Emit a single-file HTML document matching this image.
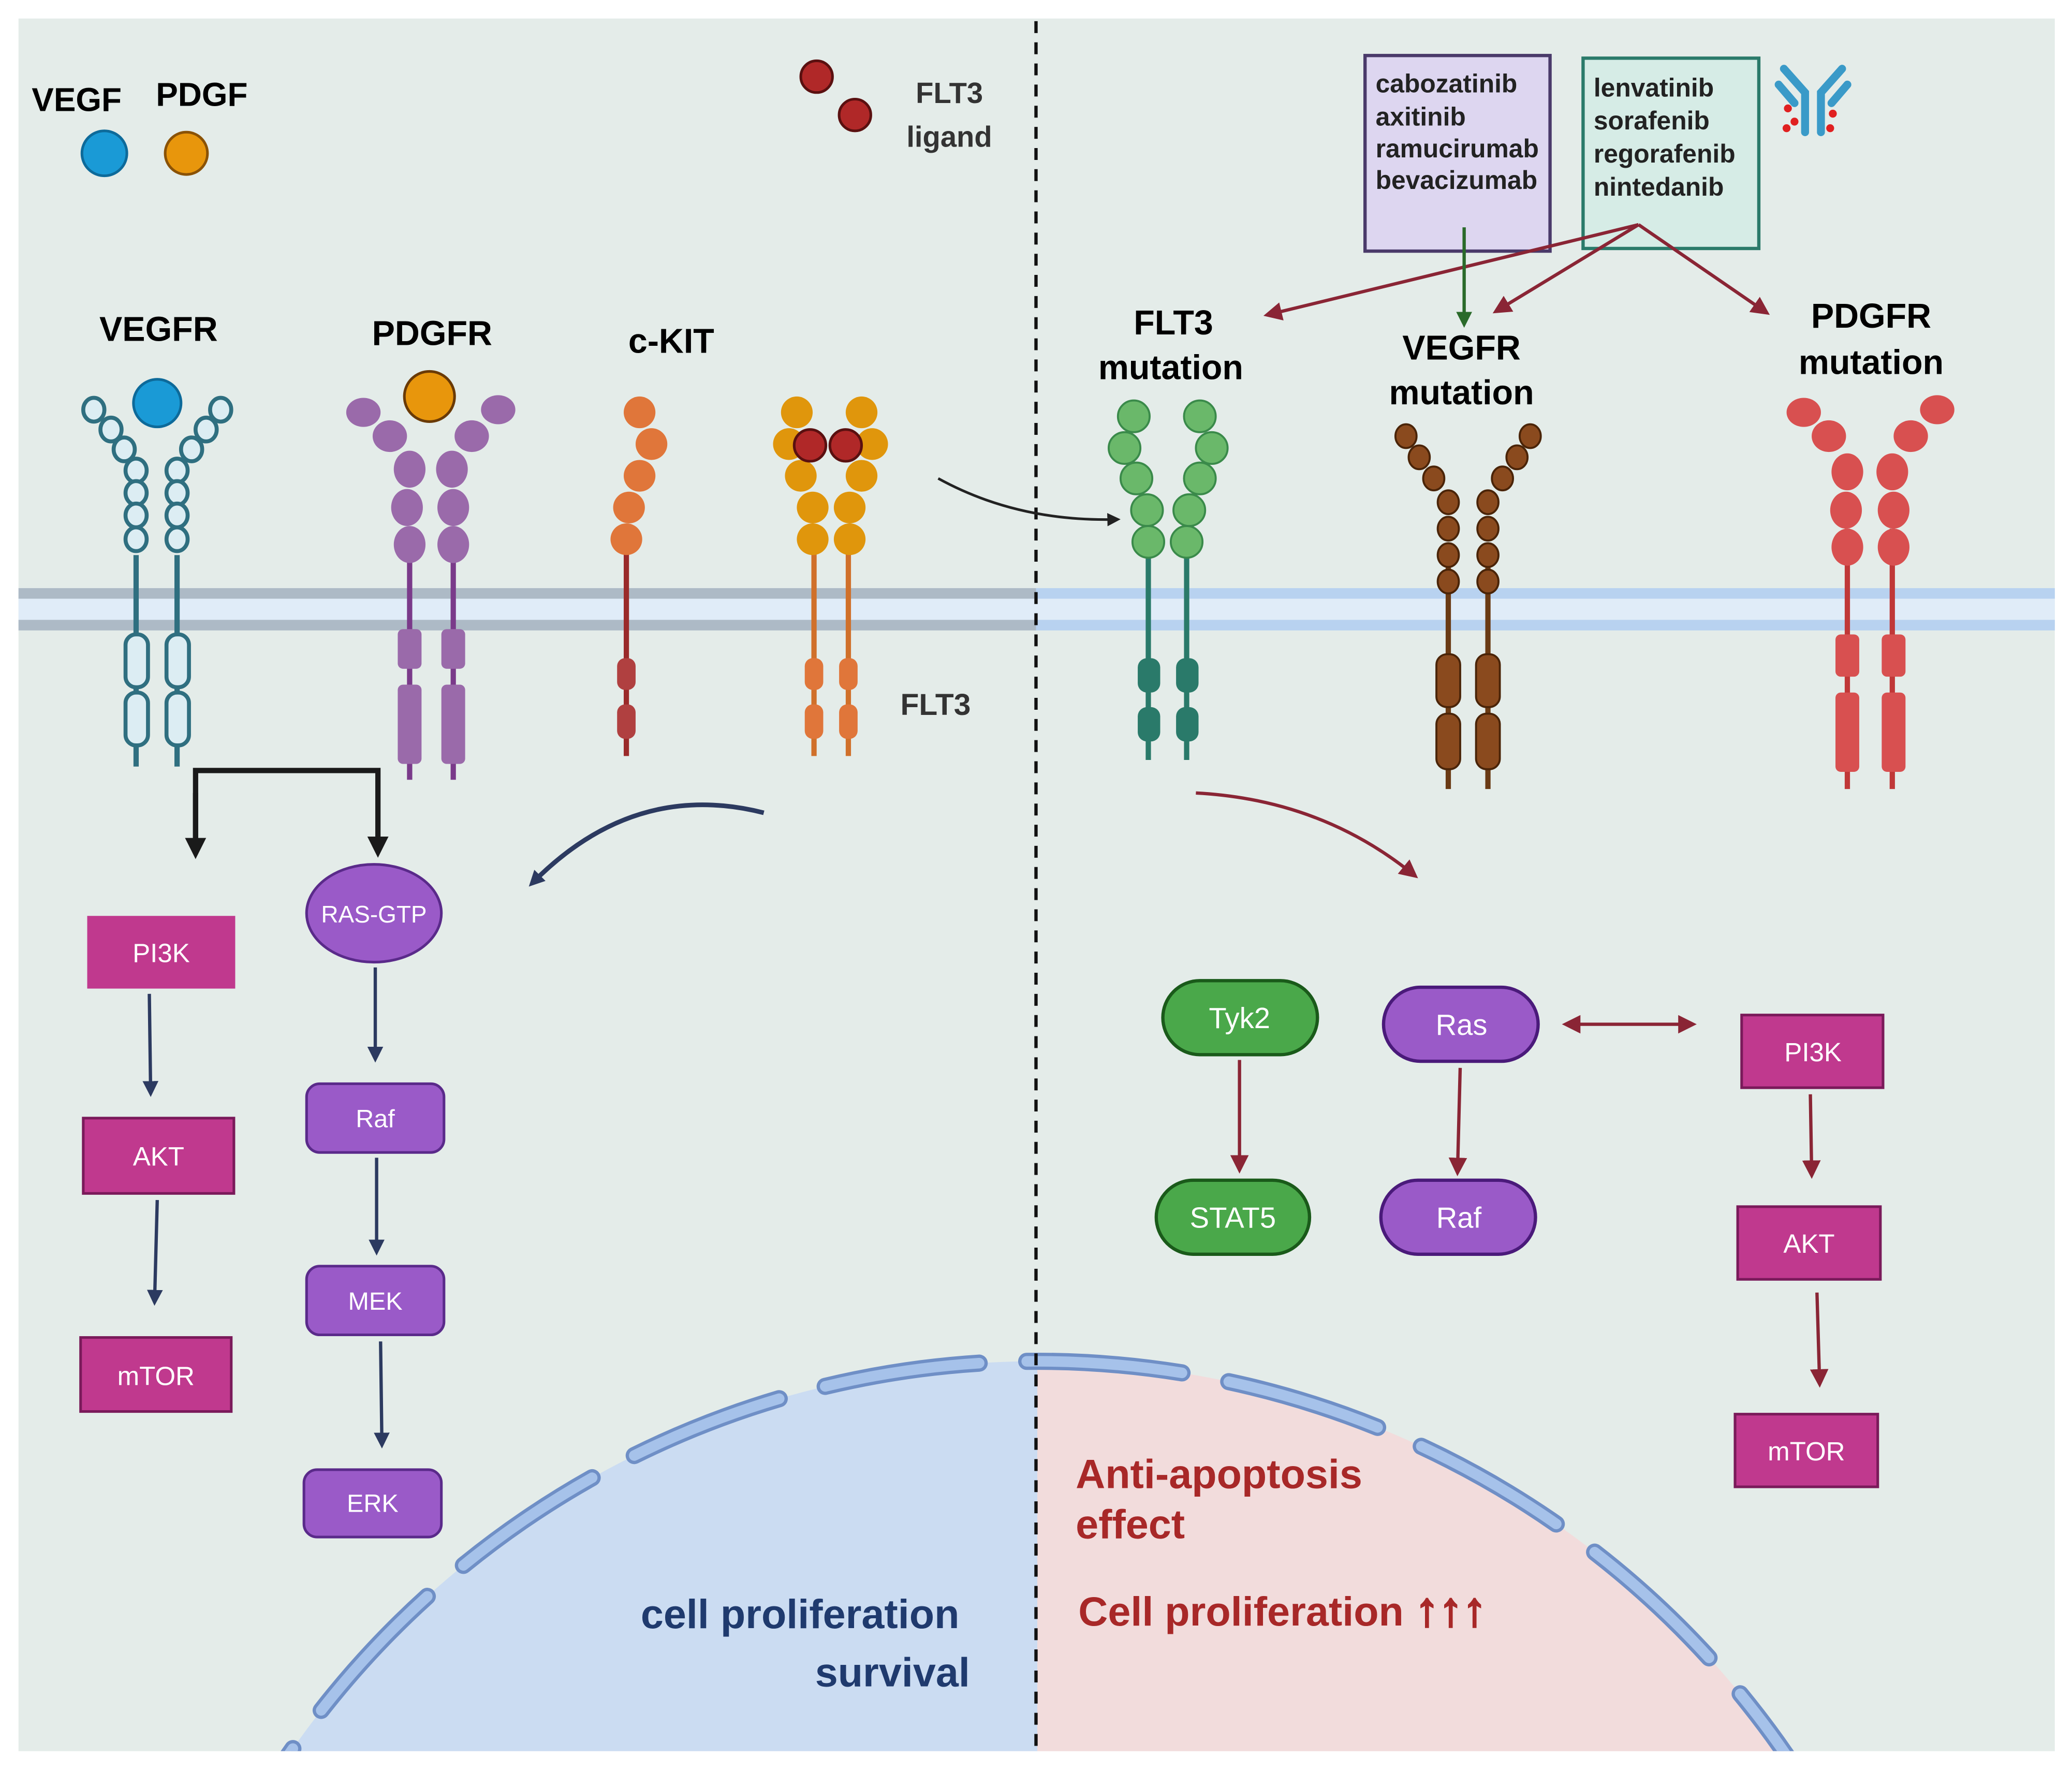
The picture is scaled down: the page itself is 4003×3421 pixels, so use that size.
<!DOCTYPE html>
<html><head><meta charset="utf-8"><style>
html,body{margin:0;padding:0;background:#fff;width:4003px;height:3421px;overflow:hidden}
svg{display:block}
text{font-family:"Liberation Sans",sans-serif;font-weight:bold}
</style></head><body>
<svg width="4003" height="3421" viewBox="0 0 1568 1340" xmlns="http://www.w3.org/2000/svg">
<defs>
<marker id="ak" markerWidth="10" markerHeight="10" refX="7" refY="5" orient="auto" markerUnits="userSpaceOnUse" viewBox="0 0 10 10"><path d="M0,0 L10,5 L0,10 z" fill="#222"/></marker>
<marker id="an" markerWidth="12" markerHeight="12" refX="8" refY="6" orient="auto" markerUnits="userSpaceOnUse" viewBox="0 0 12 12"><path d="M0,0 L12,6 L0,12 z" fill="#2c3a60"/></marker>
<marker id="am" markerWidth="14" markerHeight="14" refX="10" refY="7" orient="auto" markerUnits="userSpaceOnUse" viewBox="0 0 14 14"><path d="M0,0 L14,7 L0,14 z" fill="#8a2535"/></marker>
<marker id="amr" markerWidth="14" markerHeight="14" refX="4" refY="7" orient="auto" markerUnits="userSpaceOnUse" viewBox="0 0 14 14"><path d="M14,0 L0,7 L14,14 z" fill="#8a2535"/></marker>
<marker id="ag" markerWidth="12" markerHeight="12" refX="8" refY="6" orient="auto" markerUnits="userSpaceOnUse" viewBox="0 0 12 12"><path d="M0,0 L12,6 L0,12 z" fill="#2a6a2a"/></marker>
<marker id="ab" markerWidth="16" markerHeight="16" refX="12" refY="8" orient="auto" markerUnits="userSpaceOnUse" viewBox="0 0 16 16"><path d="M0,0 L16,8 L0,16 z" fill="#1a1a1a"/></marker>
<clipPath id="cp"><rect x="14" y="14" width="1541" height="1311"/></clipPath>
</defs>
<rect width="1568" height="1340" fill="#fff"/>
<rect x="14" y="14" width="1541" height="1311" fill="#e4ece9"/>
<rect x="14" y="448" width="770" height="26" fill="#e0ecf8"/>
<rect x="14" y="445" width="770" height="8" fill="#adbac6"/>
<rect x="14" y="469" width="770" height="8" fill="#adbac6"/>
<rect x="784" y="448" width="771" height="26" fill="#e0ecf8"/>
<rect x="784" y="445" width="771" height="8" fill="#b8d2f0"/>
<rect x="784" y="469" width="771" height="8" fill="#b8d2f0"/>
<g clip-path="url(#cp)">
<path d="M785,1030 A688,688 0 0 0 97,1718 L785,1718 Z" fill="#cbdcf2"/>
<path d="M785,1030 A688,688 0 0 1 1473,1718 L785,1718 Z" fill="#f2dcdc"/>
<circle cx="785" cy="1718" r="688" fill="none" stroke="#6f8fc6" stroke-width="13" stroke-dasharray="118 36" stroke-linecap="round"/>
<circle cx="785" cy="1718" r="688" fill="none" stroke="#a6c2ea" stroke-width="8" stroke-dasharray="118 36" stroke-linecap="round"/>
</g>
<line x1="784" y1="16" x2="784" y2="1325" stroke="#111" stroke-width="2.5" stroke-dasharray="9 7"/>
<text x="24" y="84" font-size="25">VEGF</text><text x="118" y="80" font-size="25">PDGF</text>
<circle cx="79" cy="116" r="17" fill="#1a9ad6" stroke="#0d6a9a" stroke-width="2"/>
<circle cx="141" cy="116" r="16" fill="#e8960c" stroke="#8a5206" stroke-width="2"/>
<circle cx="618" cy="58" r="12" fill="#b02828" stroke="#5a1010" stroke-width="2"/>
<circle cx="647" cy="87" r="12" fill="#b02828" stroke="#5a1010" stroke-width="2"/>
<text x="693" y="78" font-size="22" fill="#333">FLT3</text><text x="686" y="111" font-size="22" fill="#333">ligand</text>
<text x="120" y="258" font-size="26" text-anchor="middle">VEGFR</text>
<text x="327" y="261" font-size="26" text-anchor="middle">PDGFR</text>
<text x="508" y="267" font-size="26" text-anchor="middle">c-KIT</text>
<text x="708" y="541" font-size="23" text-anchor="middle" fill="#333">FLT3</text>
<text x="888" y="253" font-size="26" text-anchor="middle">FLT3</text><text x="886" y="287" font-size="26" text-anchor="middle">mutation</text>
<text x="1106" y="272" font-size="26" text-anchor="middle">VEGFR</text><text x="1106" y="306" font-size="26" text-anchor="middle">mutation</text>
<text x="1416" y="248" font-size="26" text-anchor="middle">PDGFR</text><text x="1416" y="283" font-size="26" text-anchor="middle">mutation</text>
<g stroke="#2f6f80" stroke-width="3" fill="#dcedf3">
<line x1="103" y1="420" x2="103" y2="580" stroke-width="4"/><line x1="134" y1="420" x2="134" y2="580" stroke-width="4"/>
<ellipse cx="71" cy="310" rx="8" ry="9"/><ellipse cx="84" cy="325" rx="8" ry="9"/><ellipse cx="94" cy="340" rx="8" ry="9"/>
<ellipse cx="103" cy="356" rx="8" ry="9"/><ellipse cx="103" cy="373" rx="8" ry="9"/><ellipse cx="103" cy="390" rx="8" ry="9"/><ellipse cx="103" cy="408" rx="8" ry="9"/>
<ellipse cx="167" cy="310" rx="8" ry="9"/><ellipse cx="156" cy="325" rx="8" ry="9"/><ellipse cx="145" cy="340" rx="8" ry="9"/>
<ellipse cx="134" cy="356" rx="8" ry="9"/><ellipse cx="134" cy="373" rx="8" ry="9"/><ellipse cx="134" cy="390" rx="8" ry="9"/><ellipse cx="134" cy="408" rx="8" ry="9"/>
<rect x="95" y="480" width="17" height="40" rx="8"/><rect x="95" y="524" width="17" height="40" rx="8"/>
<rect x="126" y="480" width="17" height="40" rx="8"/><rect x="126" y="524" width="17" height="40" rx="8"/>
</g>
<circle cx="119" cy="305" r="18" fill="#1a9ad6" stroke="#0d6a9a" stroke-width="2"/>
<g fill="#9a6aaa">
<rect x="308" y="400" width="4" height="190" fill="#7a3a8a"/><rect x="341" y="400" width="4" height="190" fill="#7a3a8a"/>
<ellipse cx="275" cy="312" rx="13" ry="11"/><ellipse cx="295" cy="330" rx="13" ry="12"/><ellipse cx="310" cy="355" rx="12" ry="14"/><ellipse cx="308" cy="384" rx="12" ry="14"/><ellipse cx="310" cy="412" rx="12" ry="14"/>
<ellipse cx="377" cy="310" rx="13" ry="11"/><ellipse cx="357" cy="330" rx="13" ry="12"/><ellipse cx="342" cy="355" rx="12" ry="14"/><ellipse cx="343" cy="384" rx="12" ry="14"/><ellipse cx="343" cy="412" rx="12" ry="14"/>
<rect x="301" y="476" width="18" height="30" rx="4"/><rect x="301" y="518" width="18" height="60" rx="4"/>
<rect x="334" y="476" width="18" height="30" rx="4"/><rect x="334" y="518" width="18" height="60" rx="4"/>
</g>
<circle cx="325" cy="300" r="19" fill="#e8960c" stroke="#6a3a06" stroke-width="2"/>
<line x1="474" y1="410" x2="474" y2="572" stroke="#9a2a2a" stroke-width="4"/>
<g fill="#e0763a"><circle cx="484" cy="312" r="12"/><circle cx="493" cy="336" r="12"/><circle cx="484" cy="360" r="12"/><circle cx="476" cy="384" r="12"/><circle cx="474" cy="408" r="12"/></g>
<g fill="#b04040"><rect x="467" y="498" width="14" height="24" rx="6"/><rect x="467" y="533" width="14" height="26" rx="6"/></g>
<line x1="616" y1="410" x2="616" y2="572" stroke="#d0702a" stroke-width="4"/><line x1="642" y1="410" x2="642" y2="572" stroke="#d0702a" stroke-width="4"/>
<g fill="#e0960c"><circle cx="603" cy="312" r="12"/><circle cx="652" cy="312" r="12"/><circle cx="597" cy="336" r="12"/><circle cx="660" cy="336" r="12"/><circle cx="606" cy="360" r="12"/><circle cx="652" cy="360" r="12"/><circle cx="615" cy="384" r="12"/><circle cx="643" cy="384" r="12"/><circle cx="615" cy="408" r="12"/><circle cx="643" cy="408" r="12"/></g>
<circle cx="613" cy="337" r="12" fill="#b02828" stroke="#5a1010" stroke-width="2"/><circle cx="640" cy="337" r="12" fill="#b02828" stroke="#5a1010" stroke-width="2"/>
<g fill="#e0763a"><rect x="609" y="498" width="14" height="24" rx="6"/><rect x="609" y="533" width="14" height="26" rx="6"/><rect x="635" y="498" width="14" height="24" rx="6"/><rect x="635" y="533" width="14" height="26" rx="6"/></g>
<line x1="869" y1="410" x2="869" y2="575" stroke="#2a7a6a" stroke-width="4"/><line x1="898" y1="410" x2="898" y2="575" stroke="#2a7a6a" stroke-width="4"/>
<g fill="#6ab86a" stroke="#3a8a4a" stroke-width="1.5"><circle cx="858" cy="315" r="12"/><circle cx="908" cy="315" r="12"/><circle cx="851" cy="339" r="12"/><circle cx="917" cy="339" r="12"/><circle cx="860" cy="362" r="12"/><circle cx="908" cy="362" r="12"/><circle cx="868" cy="386" r="12"/><circle cx="900" cy="386" r="12"/><circle cx="869" cy="410" r="12"/><circle cx="898" cy="410" r="12"/></g>
<g fill="#2a7a6a"><rect x="861" y="498" width="17" height="26" rx="7"/><rect x="861" y="535" width="17" height="26" rx="7"/><rect x="890" y="498" width="17" height="26" rx="7"/><rect x="890" y="535" width="17" height="26" rx="7"/></g>
<line x1="1096" y1="420" x2="1096" y2="597" stroke="#6a3a14" stroke-width="4"/><line x1="1126" y1="420" x2="1126" y2="597" stroke="#6a3a14" stroke-width="4"/>
<g fill="#8a4a1e" stroke="#4a2408" stroke-width="1.5">
<ellipse cx="1064" cy="330" rx="8" ry="9"/><ellipse cx="1074" cy="346" rx="8" ry="9"/><ellipse cx="1085" cy="362" rx="8" ry="9"/><ellipse cx="1096" cy="380" rx="8" ry="9"/><ellipse cx="1096" cy="400" rx="8" ry="9"/><ellipse cx="1096" cy="420" rx="8" ry="9"/><ellipse cx="1096" cy="440" rx="8" ry="9"/>
<ellipse cx="1158" cy="330" rx="8" ry="9"/><ellipse cx="1148" cy="346" rx="8" ry="9"/><ellipse cx="1137" cy="362" rx="8" ry="9"/><ellipse cx="1126" cy="380" rx="8" ry="9"/><ellipse cx="1126" cy="400" rx="8" ry="9"/><ellipse cx="1126" cy="420" rx="8" ry="9"/><ellipse cx="1126" cy="440" rx="8" ry="9"/>
<rect x="1087" y="495" width="18" height="40" rx="8"/><rect x="1087" y="540" width="18" height="42" rx="8"/><rect x="1117" y="495" width="18" height="40" rx="8"/><rect x="1117" y="540" width="18" height="42" rx="8"/></g>
<g fill="#d85050">
<rect x="1396" y="400" width="4" height="197" fill="#c03838"/><rect x="1430" y="400" width="4" height="197" fill="#c03838"/>
<ellipse cx="1365" cy="312" rx="13" ry="11"/><ellipse cx="1384" cy="330" rx="13" ry="12"/><ellipse cx="1398" cy="357" rx="12" ry="14"/><ellipse cx="1397" cy="386" rx="12" ry="14"/><ellipse cx="1398" cy="414" rx="12" ry="14"/>
<ellipse cx="1466" cy="310" rx="13" ry="11"/><ellipse cx="1446" cy="330" rx="13" ry="12"/><ellipse cx="1432" cy="357" rx="12" ry="14"/><ellipse cx="1433" cy="386" rx="12" ry="14"/><ellipse cx="1433" cy="414" rx="12" ry="14"/>
<rect x="1389" y="480" width="18" height="32" rx="4"/><rect x="1389" y="524" width="18" height="60" rx="4"/><rect x="1424" y="480" width="18" height="32" rx="4"/><rect x="1424" y="524" width="18" height="60" rx="4"/></g>
<rect x="1033" y="42" width="140" height="148" fill="#ddd6f0" stroke="#4a3a6a" stroke-width="2.5"/>
<g font-size="19.5" fill="#222"><text x="1041" y="70">cabozatinib</text><text x="1041" y="95">axitinib</text><text x="1041" y="119">ramucirumab</text><text x="1041" y="143">bevacizumab</text></g>
<rect x="1198" y="44" width="133" height="144" fill="#d6ece6" stroke="#2a7a6a" stroke-width="2.5"/>
<g font-size="19.5" fill="#222"><text x="1206" y="73">lenvatinib</text><text x="1206" y="98">sorafenib</text><text x="1206" y="123">regorafenib</text><text x="1206" y="148">nintedanib</text></g>
<g stroke="#3a9ac8" stroke-width="6" stroke-linecap="round" fill="none"><path d="M1366,100 L1366,70 L1350,52"/><path d="M1378,100 L1378,70 L1394,52"/><path d="M1358,78 L1346,64"/><path d="M1386,78 L1398,64"/></g>
<g fill="#e02020"><circle cx="1353" cy="82" r="3"/><circle cx="1358" cy="92" r="3"/><circle cx="1352" cy="97" r="3"/><circle cx="1387" cy="86" r="3"/><circle cx="1385" cy="97" r="3"/></g>
<g stroke="#8a2535" stroke-width="2.5" fill="none"><line x1="1240" y1="170" x2="960" y2="238" marker-end="url(#am)"/><line x1="1240" y1="170" x2="1133" y2="235" marker-end="url(#am)"/><line x1="1240" y1="170" x2="1336" y2="236" marker-end="url(#am)"/></g>
<line x1="1108" y1="172" x2="1108" y2="244" stroke="#2a6a2a" stroke-width="2.5" marker-end="url(#ag)"/>
<path d="M710,362 Q770,395 845,393" stroke="#222" stroke-width="2" fill="none" marker-end="url(#ak)"/>
<path d="M578,615 Q480,590 403,668" stroke="#2c3a60" stroke-width="3.5" fill="none" marker-end="url(#an)"/>
<path d="M905,600 Q1000,605 1070,662" stroke="#8a2535" stroke-width="2.5" fill="none" marker-end="url(#am)"/>
<path d="M148,645 L148,583 L286,583 L286,645" stroke="#1a1a1a" stroke-width="4" fill="none" marker-end="url(#ab)"/>
<line x1="148" y1="600" x2="148" y2="646" stroke="#1a1a1a" stroke-width="4" marker-end="url(#ab)"/>
<rect x="66" y="693" width="112" height="55" fill="#c0398e"/><text x="122" y="728" font-size="20" fill="#fff" text-anchor="middle" style="font-weight:normal">PI3K</text>
<rect x="63" y="846" width="114" height="57" fill="#c0398e" stroke="#7a1a5a" stroke-width="2"/><text x="120" y="882" font-size="20" fill="#fff" text-anchor="middle" style="font-weight:normal">AKT</text>
<rect x="61" y="1012" width="114" height="56" fill="#c0398e" stroke="#7a1a5a" stroke-width="2"/><text x="118" y="1048" font-size="20" fill="#fff" text-anchor="middle" style="font-weight:normal">mTOR</text>
<ellipse cx="283" cy="691" rx="51" ry="37" fill="#9a5ac8" stroke="#5a2a8a" stroke-width="2"/><text x="283" y="698" font-size="18" fill="#fff" text-anchor="middle" style="font-weight:normal">RAS-GTP</text>
<rect x="232" y="820" width="104" height="52" rx="10" fill="#9a5ac8" stroke="#5a2a8a" stroke-width="2"/><text x="284" y="853" font-size="19" fill="#fff" text-anchor="middle" style="font-weight:normal">Raf</text>
<rect x="232" y="958" width="104" height="52" rx="10" fill="#9a5ac8" stroke="#5a2a8a" stroke-width="2"/><text x="284" y="991" font-size="19" fill="#fff" text-anchor="middle" style="font-weight:normal">MEK</text>
<rect x="230" y="1112" width="104" height="51" rx="10" fill="#9a5ac8" stroke="#5a2a8a" stroke-width="2"/><text x="282" y="1144" font-size="19" fill="#fff" text-anchor="middle" style="font-weight:normal">ERK</text>
<g stroke="#2c3a60" stroke-width="2.5"><line x1="113" y1="752" x2="114" y2="826" marker-end="url(#an)"/><line x1="119" y1="908" x2="117" y2="984" marker-end="url(#an)"/><line x1="284" y1="732" x2="284" y2="800" marker-end="url(#an)"/><line x1="285" y1="876" x2="285" y2="946" marker-end="url(#an)"/><line x1="288" y1="1015" x2="289" y2="1092" marker-end="url(#an)"/></g>
<rect x="880" y="742" width="117" height="56" rx="28" fill="#4aa84a" stroke="#1a5a1a" stroke-width="2.5"/><text x="938" y="778" font-size="22" fill="#fff" text-anchor="middle" style="font-weight:normal">Tyk2</text>
<rect x="875" y="893" width="116" height="56" rx="28" fill="#4aa84a" stroke="#1a5a1a" stroke-width="2.5"/><text x="933" y="929" font-size="22" fill="#fff" text-anchor="middle" style="font-weight:normal">STAT5</text>
<rect x="1047" y="747" width="117" height="56" rx="28" fill="#9a5ac8" stroke="#4a1a7a" stroke-width="2.5"/><text x="1106" y="783" font-size="22" fill="#fff" text-anchor="middle" style="font-weight:normal">Ras</text>
<rect x="1045" y="893" width="117" height="56" rx="28" fill="#9a5ac8" stroke="#4a1a7a" stroke-width="2.5"/><text x="1104" y="929" font-size="22" fill="#fff" text-anchor="middle" style="font-weight:normal">Raf</text>
<rect x="1318" y="768" width="107" height="55" fill="#c0398e" stroke="#7a1a5a" stroke-width="2"/><text x="1372" y="803" font-size="20" fill="#fff" text-anchor="middle" style="font-weight:normal">PI3K</text>
<rect x="1315" y="913" width="108" height="55" fill="#c0398e" stroke="#7a1a5a" stroke-width="2"/><text x="1369" y="948" font-size="20" fill="#fff" text-anchor="middle" style="font-weight:normal">AKT</text>
<rect x="1313" y="1070" width="108" height="55" fill="#c0398e" stroke="#7a1a5a" stroke-width="2"/><text x="1367" y="1105" font-size="20" fill="#fff" text-anchor="middle" style="font-weight:normal">mTOR</text>
<g stroke="#8a2535" stroke-width="2.5"><line x1="938" y1="802" x2="938" y2="884" marker-end="url(#am)"/><line x1="1105" y1="808" x2="1103" y2="886" marker-end="url(#am)"/><line x1="1370" y1="828" x2="1371" y2="888" marker-end="url(#am)"/><line x1="1375" y1="978" x2="1377" y2="1046" marker-end="url(#am)"/>
<line x1="1186" y1="775" x2="1280" y2="775" marker-start="url(#amr)" marker-end="url(#am)"/></g>
<text x="726" y="1232" font-size="31" fill="#1f3a6e" text-anchor="end">cell proliferation</text>
<text x="734" y="1276" font-size="31" fill="#1f3a6e" text-anchor="end">survival</text>
<text x="814" y="1126" font-size="31" fill="#a82828">Anti-apoptosis</text>
<text x="814" y="1164" font-size="31" fill="#a82828">effect</text>
<text x="816" y="1230" font-size="31" fill="#a82828">Cell proliferation <tspan font-size="36" stroke="#a82828" stroke-width="1.5">↑↑↑</tspan></text>
</svg>
</body></html>
